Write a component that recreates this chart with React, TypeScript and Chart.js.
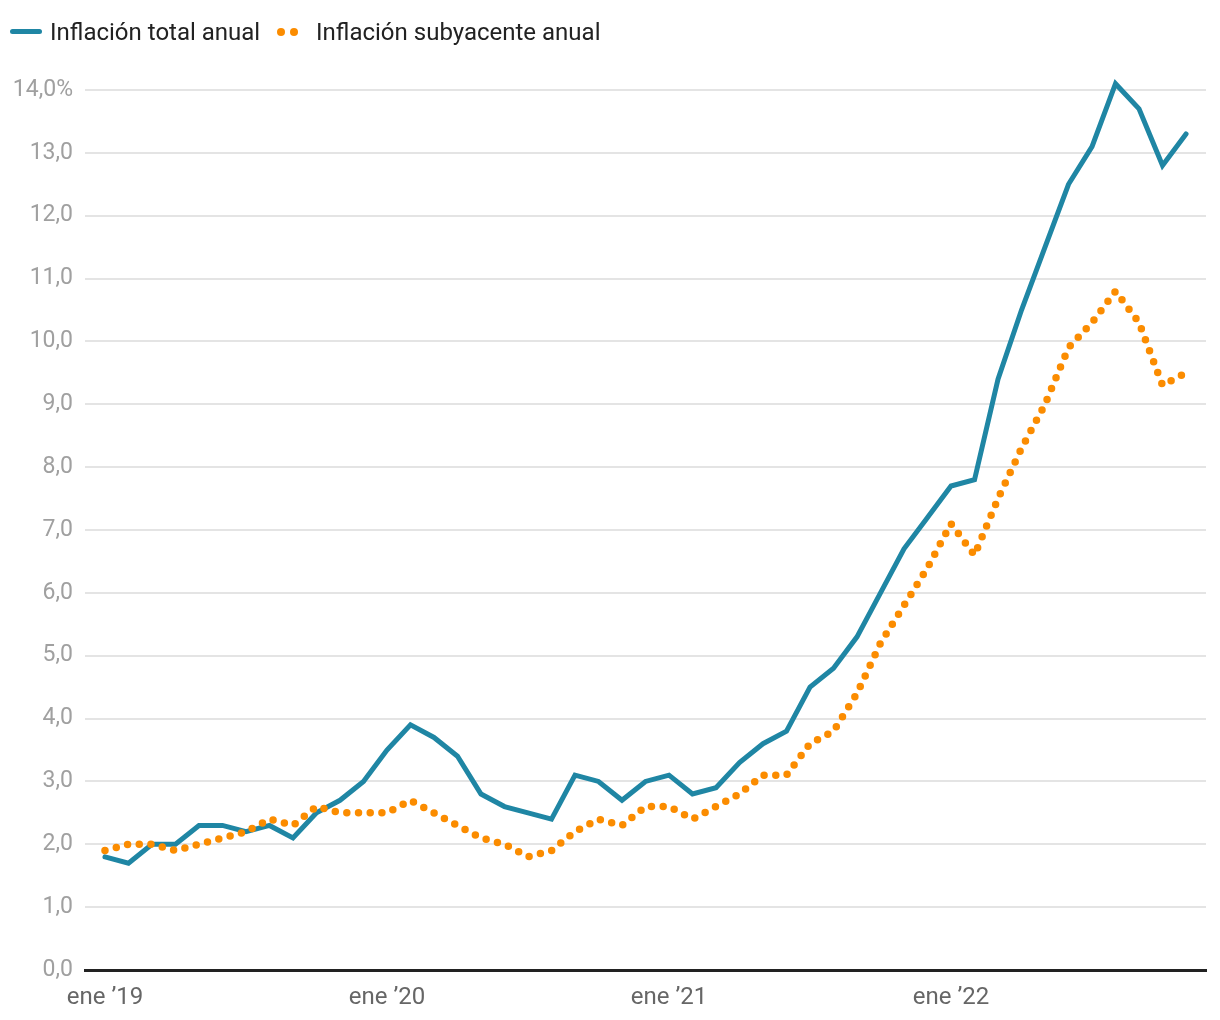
import React, { useEffect, useRef } from "react";
import { Chart, registerables } from "chart.js";

Chart.register(...registerables);

const months: string[] = [
  "ene 19","feb 19","mar 19","abr 19","may 19","jun 19","jul 19","ago 19","sep 19","oct 19","nov 19","dic 19",
  "ene 20","feb 20","mar 20","abr 20","may 20","jun 20","jul 20","ago 20","sep 20","oct 20","nov 20","dic 20",
  "ene 21","feb 21","mar 21","abr 21","may 21","jun 21","jul 21","ago 21","sep 21","oct 21","nov 21","dic 21",
  "ene 22","feb 22","mar 22","abr 22","may 22","jun 22","jul 22","ago 22","sep 22","oct 22","nov 22",
];

const totalInflation: number[] = [
  1.8, 1.7, 2.0, 2.0, 2.3, 2.3, 2.2, 2.3, 2.1, 2.5, 2.7, 3.0,
  3.5, 3.9, 3.7, 3.4, 2.8, 2.6, 2.5, 2.4, 3.1, 3.0, 2.7, 3.0,
  3.1, 2.8, 2.9, 3.3, 3.6, 3.8, 4.5, 4.8, 5.3, 6.0, 6.7, 7.2,
  7.7, 7.8, 9.4, 10.5, 11.5, 12.5, 13.1, 14.1, 13.7, 12.8, 13.3,
];

const coreInflation: number[] = [
  1.9, 2.0, 2.0, 1.9, 2.0, 2.1, 2.2, 2.4, 2.3, 2.6, 2.5, 2.5,
  2.5, 2.7, 2.5, 2.3, 2.1, 2.0, 1.8, 1.9, 2.2, 2.4, 2.3, 2.6,
  2.6, 2.4, 2.6, 2.8, 3.1, 3.1, 3.6, 3.8, 4.4, 5.2, 5.8, 6.4,
  7.1, 6.6, 7.5, 8.3, 9.0, 9.9, 10.3, 10.8, 10.3, 9.3, 9.5,
];

const xTickIndexes: number[] = [0, 12, 24, 36];
const xTickLabels: string[] = ["ene ’19", "ene ’20", "ene ’21", "ene ’22"];
const seriesNames: string[] = ["Inflación total anual", "Inflación subyacente anual"];

const BLUE = "#1f86a4";
const ORANGE = "#fb8c00";
const FONT = "Roboto, 'Noto Sans', sans-serif";

export default function App() {
  const canvasRef = useRef<HTMLCanvasElement | null>(null);

  useEffect(() => {
    if (!canvasRef.current) return;
    const chart = new Chart(canvasRef.current, {
      type: "line",
      data: {
        datasets: [
          {
            label: seriesNames[1],
            data: coreInflation.map((v, i) => ({ x: i, y: v })),
            borderColor: ORANGE,
            backgroundColor: ORANGE,
            borderWidth: 7.5,
            borderDash: [0, 11.7],
            borderCapStyle: "round",
            borderJoinStyle: "round",
            pointRadius: 0,
            tension: 0,
            fill: false,
            clip: false,
          },
          {
            label: seriesNames[0],
            data: totalInflation.map((v, i) => ({ x: i, y: v })),
            borderColor: BLUE,
            backgroundColor: BLUE,
            borderWidth: 5,
            borderCapStyle: "round",
            pointRadius: 0,
            tension: 0,
            fill: false,
            clip: false,
          },
        ],
      },
      options: {
        animation: false,
        responsive: false,
        maintainAspectRatio: false,
        layout: { padding: { top: 90, right: 14, left: 0, bottom: 0 } },
        plugins: { legend: { display: false }, tooltip: { enabled: false } },
        scales: {
          x: {
            type: "linear",
            min: -0.85,
            max: months.length - 1 + 0.85,
            afterBuildTicks: (scale: any) => {
              scale.ticks = xTickIndexes.map((v) => ({ value: v }));
            },
            afterFit: (scale: any) => {
              scale.height = 50;
            },
            grid: { display: false, drawTicks: false },
            border: { display: true, color: "#222222", width: 3 },
            ticks: {
              autoSkip: false,
              maxRotation: 0,
              padding: 14,
              color: "#666666",
              font: { family: FONT, size: 24 },
              callback: (value: any) => {
                const idx = xTickIndexes.indexOf(Number(value));
                return idx >= 0 ? xTickLabels[idx] : "";
              },
            },
          },
          y: {
            min: 0,
            max: 14,
            afterFit: (scale: any) => {
              scale.width = 85;
            },
            grid: { color: "#e4e4e4", lineWidth: 2, drawTicks: false },
            border: { display: false },
            ticks: {
              stepSize: 1,
              padding: 12,
              color: "#a0a0a0",
              font: { family: FONT, size: 23 },
              callback: (value: any) => {
                const v = Number(value);
                const s = v.toFixed(1).replace(".", ",");
                return v === 14 ? s + "%" : s;
              },
            },
          },
        },
      },
    });
    return () => chart.destroy();
  }, []);

  return (
    <div style={{ position: "absolute", left: 0, top: 0, width: 1220, height: 1020, background: "#fff", fontFamily: FONT }}>
      <canvas ref={canvasRef} width={1220} height={1020} style={{ position: "absolute", left: 0, top: 0 }} />
      <div style={{ position: "absolute", left: 10, top: 29, width: 32, height: 5, borderRadius: 3, background: BLUE }} />
      <div style={{ position: "absolute", left: 50, top: 16, fontSize: 24, lineHeight: "32px", color: "#222" }}>{seriesNames[0]}</div>
      <div style={{ position: "absolute", left: 277, top: 28, width: 8, height: 8, borderRadius: 4, background: ORANGE }} />
      <div style={{ position: "absolute", left: 290, top: 28, width: 8, height: 8, borderRadius: 4, background: ORANGE }} />
      <div style={{ position: "absolute", left: 316, top: 16, fontSize: 24, lineHeight: "32px", color: "#222" }}>{seriesNames[1]}</div>
    </div>
  );
}
